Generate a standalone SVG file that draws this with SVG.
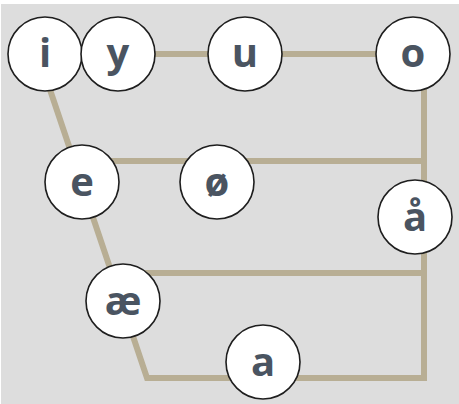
<svg xmlns="http://www.w3.org/2000/svg" width="459" height="404" viewBox="0 0 459 404">
  <style>
    .edge { fill: none; stroke: #b8ae94; stroke-width: 6; stroke-linejoin: miter; stroke-linecap: butt; }
    .node circle { fill: #ffffff; stroke: #1e1e1e; stroke-width: 1.6; }
    .node text { font-family: "Open Sans", "Noto Sans", "DejaVu Sans", sans-serif; font-weight: 700; font-size: 40px; fill: #4a5461; text-anchor: middle; }
  </style>
  <rect x="0" y="0" width="459" height="404" fill="#ffffff"/>
  <rect x="1" y="4" width="458" height="400" fill="#dddddd"/>

  <!-- vowel trapezoid lines -->
  <g id="connectors">
    <polyline class="edge" points="38,54 424,54 424,378 147,378 38,54"/>
    <line class="edge" x1="74" y1="161" x2="424" y2="161"/>
    <line class="edge" x1="111" y1="273" x2="424" y2="273"/>
  </g>

  <g id="node-i" class="node"><circle cx="45" cy="54" r="37"/><text x="45" y="67">i</text></g>
  <g id="node-y" class="node"><circle cx="118" cy="54" r="37"/><text x="118" y="67">y</text></g>
  <g id="node-u" class="node"><circle cx="245" cy="54" r="37"/><text x="245" y="67">u</text></g>
  <g id="node-o" class="node"><circle cx="413" cy="54" r="37"/><text x="413" y="67">o</text></g>
  <g id="node-e" class="node"><circle cx="82" cy="182" r="37"/><text x="82" y="196">e</text></g>
  <g id="node-oslash" class="node"><circle cx="217" cy="182" r="37"/><text x="217" y="196">ø</text></g>
  <g id="node-aring" class="node"><circle cx="415" cy="217" r="37"/><text x="415" y="231">å</text></g>
  <g id="node-ae" class="node"><circle cx="123" cy="301" r="37"/><text x="123" y="315">æ</text></g>
  <g id="node-a" class="node"><circle cx="263" cy="362" r="37"/><text x="263" y="376">a</text></g>
</svg>
